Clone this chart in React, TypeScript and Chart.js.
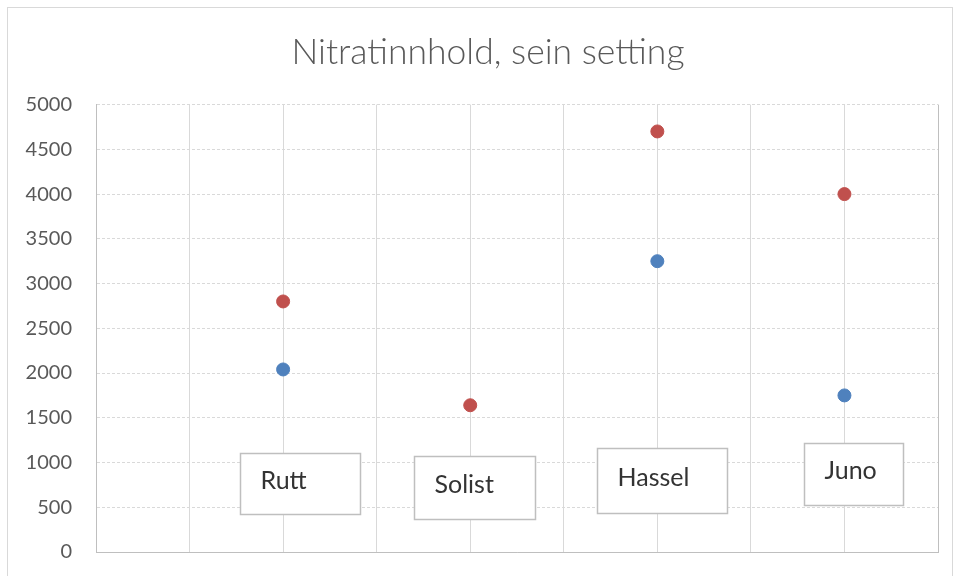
import { useEffect, useRef } from "react";
import { Chart, registerables } from "chart.js";

Chart.register(...registerables);

// ---- data ----
const categories = ["Rutt", "Solist", "Hassel", "Juno"];
const categoryX = [2, 4, 6, 8];
const seriesBlue: (number | null)[] = [2040, null, 3250, 1750];
const seriesRed: (number | null)[] = [2800, 1640, 4700, 4000];
const yTicks = [0, 500, 1000, 1500, 2000, 2500, 3000, 3500, 4000, 4500, 5000];
// label box anchors in data units (centre of each text box)
const labelCenterX = [2.18, 4.05, 6.05, 8.1];
const labelCenterY = [764, 720, 798, 876];

const titleText = "Nitratinnhold, sein setting";

const toPoints = (vals: (number | null)[]) =>
  vals
    .map((v, i) => (v == null ? null : { x: categoryX[i], y: v }))
    .filter((p) => p !== null) as { x: number; y: number }[];

const boxW = [120, 121, 130, 99];
const boxH = [61, 63, 65, 62];
const TITLE_SIZE = 35.5;
const TITLE_PAD_TOP = 31;

const labelPlugin = {
  id: "categoryLabels",
  afterDatasetsDraw(chart: any) {
    const { ctx, scales } = chart;
    const xs = scales.x;
    const ys = scales.y;
    ctx.save();
    categories.forEach((name, i) => {
      const cx = xs.getPixelForValue(labelCenterX[i]);
      const cy = ys.getPixelForValue(labelCenterY[i]);
      const w = boxW[i];
      const h = boxH[i];
      const left = Math.round(cx - w / 2) + 0.5;
      const top = Math.round(cy - h / 2) + 0.5;
      ctx.fillStyle = "#ffffff";
      ctx.fillRect(left, top, w, h);
      ctx.strokeStyle = "#bfbfbf";
      ctx.lineWidth = 1.5;
      ctx.strokeRect(left, top, w, h);
      ctx.font = "25px Lato";
      ctx.fillStyle = "#333333";
      ctx.textAlign = "left";
      ctx.textBaseline = "alphabetic";
      ctx.fillText(name, left + 20, cy + 5.5);
    });
    ctx.restore();
  },
};

// draws the title centred over the whole chart frame (the built-in title keeps the space)
const titlePlugin = {
  id: "shiftedTitle",
  afterDraw(chart: any) {
    const { ctx } = chart;
    const tb = chart.titleBlock;
    const top = tb ? tb.top : 0;
    ctx.save();
    ctx.font = `300 ${TITLE_SIZE}px Lato`;
    ctx.fillStyle = "#595959";
    ctx.textAlign = "center";
    ctx.textBaseline = "middle";
    const cx = (38 + chart.chartArea.right) / 2;
    ctx.fillText(titleText, cx, top + TITLE_PAD_TOP + (TITLE_SIZE * 1.2) / 2);
    ctx.restore();
  },
};

export default function App() {
  const ref = useRef<HTMLCanvasElement | null>(null);

  useEffect(() => {
    if (!ref.current) return;
    const chart = new Chart(ref.current, {
      type: "scatter",
      data: {
        datasets: [
          {
            label: "Serie 1",
            data: toPoints(seriesBlue),
            backgroundColor: "#4F81BD",
            borderColor: "#4F81BD",
            pointRadius: 6.5,
            pointHoverRadius: 6.5,
            showLine: false,
          },
          {
            label: "Serie 2",
            data: toPoints(seriesRed),
            backgroundColor: "#C0504D",
            borderColor: "#C0504D",
            pointRadius: 6.5,
            pointHoverRadius: 6.5,
            showLine: false,
          },
        ],
      },
      options: {
        animation: false,
        responsive: false,
        maintainAspectRatio: false,
        events: [],
        layout: { padding: { left: 0, right: 19, top: 0, bottom: 0 } },
        plugins: {
          legend: { display: false },
          tooltip: { enabled: false },
          title: {
            display: true,
            text: titleText,
            color: "rgba(0,0,0,0)",
            font: { family: "Lato", size: TITLE_SIZE, weight: "300" as any },
            padding: { top: TITLE_PAD_TOP, bottom: 31 },
          },
        },
        scales: {
          x: {
            type: "linear",
            min: 0,
            max: 9,
            ticks: { display: false, stepSize: 1 },
            grid: {
              drawTicks: false,
              color: (c: any) => (c.tick && c.tick.value === 9 ? "#bfbfbf" : "#d9d9d9"),
              lineWidth: 1,
            },
            border: { color: "#bfbfbf", width: 1 },
            afterFit: (s: any) => {
              s.height = 24;
            },
          },
          y: {
            min: 0,
            max: 5000,
            afterBuildTicks: (s: any) => {
              s.ticks = yTicks.map((v) => ({ value: v }));
            },
            ticks: {
              stepSize: 500,
              color: "#595959",
              font: { family: "Lato", size: 20 },
              padding: 24,
              callback: (v: any) => String(v),
            },
            grid: { drawTicks: false, color: "#d9d9d9", lineWidth: 1 },
            border: { color: "#bfbfbf", width: 1, dash: [3, 2] },
            afterFit: (s: any) => {
              s.width = 96;
              s.paddingBottom = 0;
              s.paddingTop = 0;
            },
          },
        },
      },
      plugins: [labelPlugin, titlePlugin],
    });
    return () => chart.destroy();
  }, []);

  return (
    <div
      style={{
        position: "fixed",
        left: 0,
        top: 0,
        width: 957,
        height: 576,
        background: "#ffffff",
        overflow: "hidden",
      }}
    >
      <div
        style={{
          position: "absolute",
          left: 7,
          top: 7,
          width: 946,
          height: 600,
          border: "1px solid #d9d9d9",
          boxSizing: "border-box",
        }}
      />
      <canvas
        ref={ref}
        width={957}
        height={576}
        style={{ position: "absolute", left: 0, top: 0, width: 957, height: 576 }}
      />
    </div>
  );
}
